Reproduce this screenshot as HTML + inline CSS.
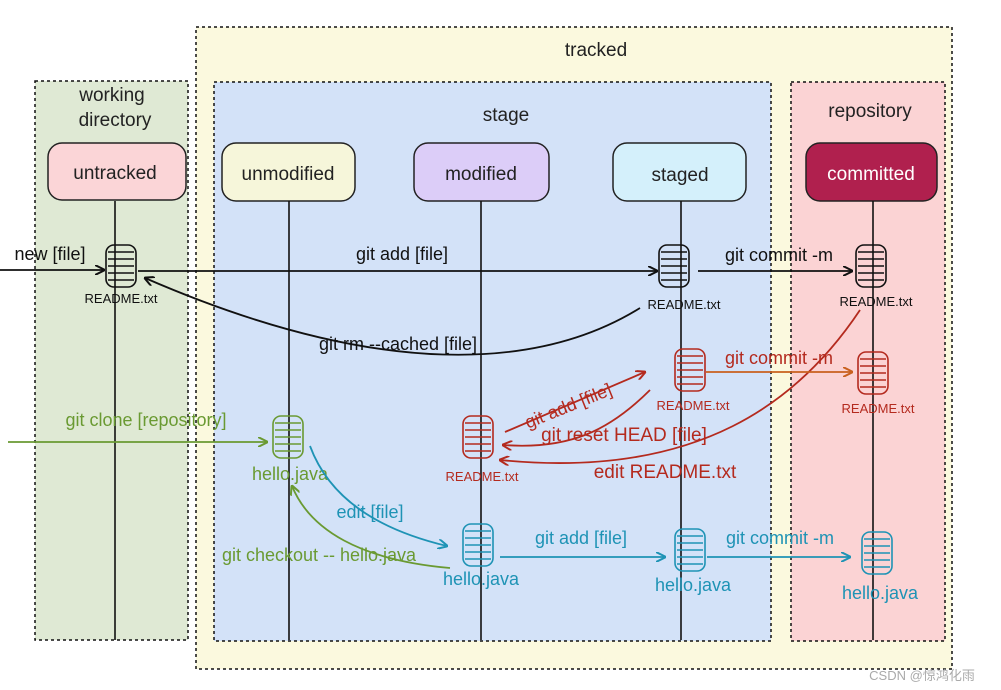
<!DOCTYPE html>
<html><head><meta charset="utf-8"><style>
body{margin:0;background:#fff}
svg{display:block;font-family:"Liberation Sans",sans-serif}
</style></head><body>
<svg width="1001" height="690" viewBox="0 0 1001 690" xmlns="http://www.w3.org/2000/svg">
<defs>
<marker id="ak" markerWidth="10" markerHeight="10" refX="9" refY="5" orient="auto" markerUnits="userSpaceOnUse"><path d="M0,0 L10,5 L0,10" fill="none" stroke="#111" stroke-width="2"/></marker>
<marker id="ar" markerWidth="10" markerHeight="10" refX="9" refY="5" orient="auto" markerUnits="userSpaceOnUse"><path d="M0,0 L10,5 L0,10" fill="none" stroke="#b42a1e" stroke-width="2"/></marker>
<marker id="ao" markerWidth="10" markerHeight="10" refX="9" refY="5" orient="auto" markerUnits="userSpaceOnUse"><path d="M0,0 L10,5 L0,10" fill="none" stroke="#c9601e" stroke-width="2"/></marker>
<marker id="ag" markerWidth="10" markerHeight="10" refX="9" refY="5" orient="auto" markerUnits="userSpaceOnUse"><path d="M0,0 L10,5 L0,10" fill="none" stroke="#6a9a32" stroke-width="2"/></marker>
<marker id="ab" markerWidth="10" markerHeight="10" refX="9" refY="5" orient="auto" markerUnits="userSpaceOnUse"><path d="M0,0 L10,5 L0,10" fill="none" stroke="#1e93b5" stroke-width="2"/></marker>
<g id="f"><rect x="-15" y="-21" width="30" height="42" rx="8" fill="none" stroke-width="1.6"/><path d="M-13,-14H13M-13,-7H13M-13,0H13M-13,7H13M-13,14H13" stroke-width="1.6"/></g>
</defs>
<rect x="196" y="27" width="756" height="642" fill="#fbf9de" stroke="#111" stroke-width="1.5" stroke-dasharray="3,3"/>
<rect x="35" y="81" width="153" height="559" fill="#dfe9d4" stroke="#111" stroke-width="1.5" stroke-dasharray="3,3"/>
<rect x="214" y="82" width="557" height="559" fill="#d3e2f8" stroke="#111" stroke-width="1.5" stroke-dasharray="3,3"/>
<rect x="791" y="82" width="154" height="559" fill="#fbd3d4" stroke="#111" stroke-width="1.5" stroke-dasharray="3,3"/>
<g font-size="19" fill="#222" text-anchor="middle">
<text x="596" y="56">tracked</text>
<text x="112" y="101">working</text><text x="115" y="126">directory</text>
<text x="506" y="121">stage</text>
<text x="870" y="117">repository</text>
</g>
<g stroke="#222" stroke-width="1.5">
<rect x="48" y="143" width="138" height="57" rx="14" fill="#fbd5d7"/>
<rect x="222" y="143" width="133" height="58" rx="14" fill="#f6f6da"/>
<rect x="414" y="143" width="135" height="58" rx="14" fill="#dccdf8"/>
<rect x="613" y="143" width="133" height="58" rx="14" fill="#d4f0fb"/>
<rect x="806" y="143" width="131" height="58" rx="14" fill="#b0204e"/>
</g>
<g font-size="19" text-anchor="middle" fill="#222">
<text x="115" y="179">untracked</text><text x="288" y="180">unmodified</text><text x="481" y="180">modified</text><text x="680" y="181">staged</text>
<text x="871" y="180" fill="#fff">committed</text>
</g>
<g stroke="#111" stroke-width="1.6">
<path d="M115,201V640M289,201V640M481,201V640M681,201V640M873,201V640"/>
</g>
<!-- black -->
<g stroke="#111" fill="none" stroke-width="1.8">
<path d="M0,270H104" marker-end="url(#ak)"/>
<path d="M138,271H657" marker-end="url(#ak)"/>
<path d="M698,271H852" marker-end="url(#ak)"/>
<path d="M640,308 C540,370 380,380 145,278" marker-end="url(#ak)"/>
</g>
<g stroke="#111"><use href="#f" x="121" y="266"/><use href="#f" x="674" y="266"/><use href="#f" x="871" y="266"/></g>
<g font-size="18" fill="#111" text-anchor="middle">
<text x="50" y="260">new [file]</text><text x="402" y="260">git add [file]</text><text x="779" y="261">git commit -m</text>
<text x="398" y="350">git rm --cached [file]</text>
</g>
<g font-size="13" fill="#111" text-anchor="middle"><text x="121" y="303">README.txt</text><text x="684" y="309">README.txt</text><text x="876" y="306">README.txt</text></g>
<!-- red -->
<g fill="none" stroke-width="1.8">
<path d="M505,432 L645,372" stroke="#b42a1e" marker-end="url(#ar)"/>
<path d="M650,390 C610,430 570,450 503,445" stroke="#b42a1e" marker-end="url(#ar)"/>
<path d="M860,310 C800,400 700,480 500,460" stroke="#b42a1e" marker-end="url(#ar)"/>
<path d="M706,372H852" stroke="#c9601e" marker-end="url(#ao)"/>
</g>
<g stroke="#b42a1e"><use href="#f" x="690" y="370"/><use href="#f" x="873" y="373"/><use href="#f" x="478" y="437"/></g>
<g fill="#b42a1e" text-anchor="middle">
<text x="568" y="412" font-size="18" transform="rotate(-22 568 405)">git add [file]</text>
<text x="779" y="364" font-size="18">git commit -m</text>
<text x="624" y="441" font-size="19">git reset HEAD [file]</text>
<text x="665" y="478" font-size="19">edit README.txt</text>
<text x="693" y="410" font-size="13">README.txt</text>
<text x="878" y="413" font-size="13">README.txt</text>
<text x="482" y="481" font-size="13">README.txt</text>
</g>
<!-- green -->
<g fill="none" stroke="#6a9a32" stroke-width="1.8">
<path d="M8,442H267" marker-end="url(#ag)"/>
<path d="M450,568 C360,560 310,530 292,486" marker-end="url(#ag)"/>
</g>
<g stroke="#6a9a32"><use href="#f" x="288" y="437"/></g>
<g fill="#6a9a32" text-anchor="middle" font-size="18">
<text x="146" y="426">git clone [repository]</text>
<text x="290" y="480">hello.java</text>
<text x="319" y="561">git checkout -- hello.java</text>
</g>
<!-- blue -->
<g fill="none" stroke="#1e93b5" stroke-width="1.8">
<path d="M310,446 C330,500 380,530 447,546" marker-end="url(#ab)"/>
<path d="M500,557H665" marker-end="url(#ab)"/>
<path d="M707,557H850" marker-end="url(#ab)"/>
</g>
<g stroke="#1e93b5"><use href="#f" x="478" y="545"/><use href="#f" x="690" y="550"/><use href="#f" x="877" y="553"/></g>
<g fill="#1e93b5" text-anchor="middle" font-size="18">
<text x="370" y="518">edit [file]</text>
<text x="581" y="544">git add [file]</text>
<text x="780" y="544">git commit -m</text>
<text x="481" y="585">hello.java</text>
<text x="693" y="591">hello.java</text>
<text x="880" y="599">hello.java</text>
</g>
<text x="922" y="680" font-size="13" fill="#aaa" text-anchor="middle" font-family="Liberation Sans,Noto Sans CJK SC,sans-serif">CSDN @惊鸿化雨</text>
</svg>
</body></html>
